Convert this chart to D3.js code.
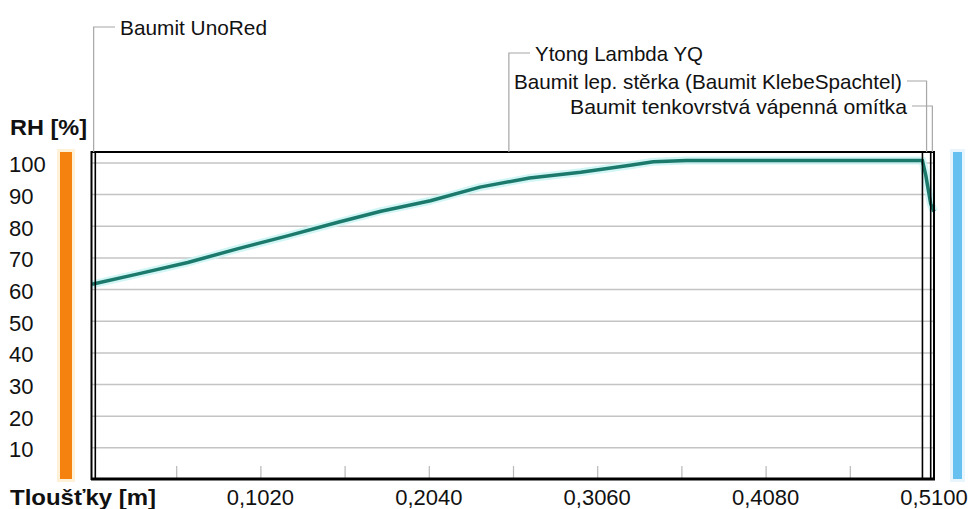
<!DOCTYPE html>
<html>
<head>
<meta charset="utf-8">
<script src="https://cdn.jsdelivr.net/npm/d3@7"></script>
<style>
  html, body { margin: 0; padding: 0; background: #fff; }
  svg { display: block; font-family: "Liberation Sans", Arial, sans-serif; }
</style>
</head>
<body>
<svg id="chart" width="970" height="509"></svg>
<script>
// Wall layers, from the interior side (left) to the exterior side (right)
const layerNames = [
  "Baumit UnoRed",
  "Ytong Lambda YQ",
  "Baumit lep. stěrka (Baumit KlebeSpachtel)",
  "Baumit tenkovrstvá vápenná omítka"
];
const layerThickness = [0.002, 0.501, 0.005, 0.002]; // m

// Relative humidity profile across the wall
const depth = [0.000, 0.028, 0.058, 0.088, 0.119, 0.149, 0.175, 0.205, 0.235,
               0.265, 0.296, 0.326, 0.340, 0.360, 0.503, 0.505, 0.508, 0.510];
const rh    = [61.5, 64.8, 68.4, 72.7, 76.9, 81.1, 84.6, 87.9, 92.2,
               95.1, 96.9, 99.1, 100.2, 100.6, 100.6, 96.0, 87.0, 84.5];

// Axis ticks
const yTicks = [10, 20, 30, 40, 50, 60, 70, 80, 90, 100];
const xMinorTicks = [0.051, 0.102, 0.153, 0.204, 0.255, 0.306, 0.357, 0.408, 0.459];
const xTickLabels = [0.102, 0.204, 0.306, 0.408, 0.510];

const svg = d3.select("#chart");
const plotL = 92, plotR = 934, plotT = 152, plotB = 479;

const x = d3.scaleLinear().domain([0, 0.51]).range([plotL, plotR]);
const y = d3.scaleLinear().domain([0, 103.3]).range([plotB, plotT]);

// Layer boundaries
const bounds = [0];
layerThickness.forEach(t => bounds.push(bounds[bounds.length - 1] + t));

// Side bars: interior (orange) and exterior (blue) climate
function sideBar(x0, w, fill, glow) {
  svg.append("rect").attr("x", x0 - 3).attr("y", plotT - 3).attr("width", w + 6)
    .attr("height", plotB - plotT + 6).attr("fill", glow).attr("opacity", 0.7);
  svg.append("rect").attr("x", x0).attr("y", plotT).attr("width", w)
    .attr("height", plotB - plotT).attr("fill", fill);
}
sideBar(60, 12, "#f5820f", "#fdebc8");
sideBar(953, 9, "#66c0f0", "#dff1fb");

// Horizontal gridlines
svg.append("g")
  .attr("transform", `translate(${plotL},0)`)
  .call(d3.axisLeft(y).tickValues(yTicks).tickSize(-(plotR - plotL)).tickFormat(""))
  .call(g => g.select(".domain").remove())
  .call(g => g.selectAll("line").attr("stroke", "#c4c4c4").attr("stroke-width", 1.5));

// Y tick labels (left-aligned)
svg.append("g").selectAll("text").data(yTicks).join("text")
  .attr("x", 9).attr("y", d => y(d) + 10)
  .attr("font-size", 22).attr("fill", "#111")
  .text(d => d);

// Minor x ticks inside the plot
svg.append("g")
  .attr("transform", `translate(0,${plotB})`)
  .call(d3.axisTop(x).tickValues(xMinorTicks).tickSize(13).tickFormat(""))
  .call(g => g.select(".domain").remove())
  .call(g => g.selectAll("line").attr("stroke", "#b8b8b8").attr("stroke-width", 1.2));

// X tick labels
const fmt = d => d3.format(".4f")(d).replace(".", ",");
svg.append("g").selectAll("text").data(xTickLabels).join("text")
  .attr("x", d => x(d)).attr("y", 505)
  .attr("text-anchor", "middle").attr("font-size", 22).attr("fill", "#111")
  .text(fmt);

// RH curve with a soft halo
const line = d3.line().x((d, i) => x(depth[i])).y(d => y(d));
svg.append("path").datum(rh).attr("d", line)
  .attr("fill", "none").attr("stroke", "#c6f4f2").attr("stroke-width", 8)
  .attr("stroke-linejoin", "round").attr("opacity", 0.8);
svg.append("path").datum(rh).attr("d", line)
  .attr("fill", "none").attr("stroke", "#1c7a6d").attr("stroke-width", 3.5)
  .attr("stroke-linejoin", "round");

// Layer boundary lines
svg.append("g").selectAll("line").data(bounds.slice(1, -1)).join("line")
  .attr("x1", d => x(d)).attr("x2", d => x(d))
  .attr("y1", plotT).attr("y2", plotB)
  .attr("stroke", "#000").attr("stroke-width", 1.6);

// Plot frame
svg.append("rect").attr("x", plotL - 0.5).attr("y", plotT).attr("width", plotR - plotL + 0.5)
  .attr("height", plotB - plotT).attr("fill", "none").attr("stroke", "#000").attr("stroke-width", 2);
svg.append("line").attr("x1", plotL - 1).attr("x2", plotR + 1).attr("y1", plotB).attr("y2", plotB)
  .attr("stroke", "#000").attr("stroke-width", 3);

// Layer labels with leader lines
const labelPos = [
  { ly: 27,  tx: 120, anchor: "start", side: 1,  base: 35,  w: 147 },
  { ly: 53,  tx: 535, anchor: "start", side: 1,  base: 61,  w: 168 },
  { ly: 81,  tx: 902, anchor: "end",   side: -1, base: 89,  w: 388 },
  { ly: 106, tx: 907, anchor: "end",   side: -1, base: 114, w: 337 }
];
layerNames.forEach((name, i) => {
  const p = labelPos[i];
  const mx = x((bounds[i] + bounds[i + 1]) / 2);
  const hx = p.tx - p.side * 5;
  svg.append("path")
    .attr("d", `M${mx},${plotT} V${p.ly} H${hx}`)
    .attr("fill", "none").attr("stroke", "#a6a6a6").attr("stroke-width", 1.2);
  svg.append("text")
    .attr("x", p.tx).attr("y", p.base).attr("text-anchor", p.anchor)
    .attr("font-size", 21).attr("fill", "#111")
    .attr("textLength", p.w).attr("lengthAdjust", "spacingAndGlyphs")
    .text(name);
});

// Axis titles
svg.append("text").attr("x", 10).attr("y", 135)
  .attr("font-size", 22).attr("font-weight", "bold").attr("fill", "#111")
  .attr("textLength", 77).attr("lengthAdjust", "spacingAndGlyphs")
  .text("RH [%]");
svg.append("text").attr("x", 10).attr("y", 505)
  .attr("font-size", 22).attr("font-weight", "bold").attr("fill", "#111")
  .attr("textLength", 146).attr("lengthAdjust", "spacingAndGlyphs")
  .text("Tloušťky [m]");
</script>
</body>
</html>
